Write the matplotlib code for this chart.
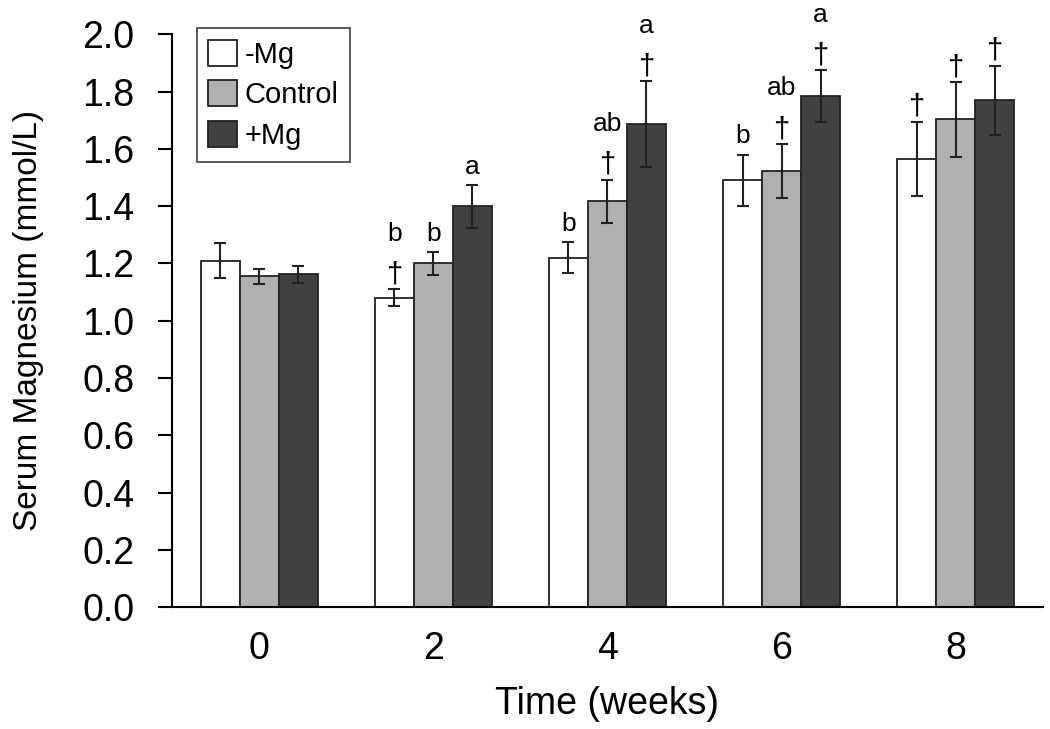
import numpy as np
import matplotlib
matplotlib.use("Agg")
from matplotlib import pyplot as plt

plt.rcParams['font.family'] = ['Liberation Sans', 'DejaVu Sans']

weeks = ["0", "2", "4", "6", "8"]
groups = ["-Mg", "Control", "+Mg"]

minus_mg = [1.21, 1.08, 1.22, 1.49, 1.565]
control = [1.155, 1.20, 1.417, 1.522, 1.703]
plus_mg = [1.162, 1.40, 1.686, 1.784, 1.77]

minus_mg_err = [0.06, 0.03, 0.055, 0.09, 0.13]
control_err = [0.025, 0.04, 0.075, 0.095, 0.13]
plus_mg_err = [0.03, 0.075, 0.15, 0.09, 0.12]

# significance marks above each bar: (letter, dagger)
minus_mg_marks = [("", False), ("b", True), ("b", False), ("b", False), ("", True)]
control_marks = [("", False), ("b", False), ("ab", True), ("ab", True), ("", True)]
plus_mg_marks = [("", False), ("a", False), ("a", True), ("a", True), ("", True)]

colors = ["white", "#b0b0b0", "#414141"]

fig, ax = plt.subplots(figsize=(10.5, 7.29), dpi=100)
fig.subplots_adjust(left=0.164, right=0.993, top=0.953, bottom=0.167)

x = np.arange(len(weeks))
w = 0.224
series = [(minus_mg, minus_mg_err, minus_mg_marks),
          (control, control_err, control_marks),
          (plus_mg, plus_mg_err, plus_mg_marks)]

for i, (vals, errs, marks) in enumerate(series):
    xs = x + (i - 1) * w
    ax.bar(xs, vals, w, color=colors[i], edgecolor="#222222", linewidth=1.3,
           label=groups[i], zorder=2)
    ax.errorbar(xs, vals, yerr=errs, fmt="none", ecolor="#222222",
                elinewidth=1.5, capsize=4, capthick=1.5, zorder=3)
    for xi, v, e, (letter, dag) in zip(xs, vals, errs, marks):
        top = v + e
        off = 5
        if dag:
            ax.annotate("\u2020", (xi, top), xytext=(0, off), textcoords="offset points",
                        ha="center", va="baseline", fontsize=21)
            off += 30
        else:
            off = 8
        if letter:
            ax.annotate(letter, (xi, top), xytext=(0, off), textcoords="offset points",
                        ha="center", va="baseline", fontsize=19)

ax.set_xlim(-0.5, 4.5)
ax.set_ylim(0, 2.0)
ax.set_yticks(np.arange(0, 2.01, 0.2))
ax.set_yticklabels([f"{t:.1f}" for t in np.arange(0, 2.01, 0.2)])
ax.set_xticks(x)
ax.set_xticklabels(weeks)
ax.tick_params(axis="y", direction="out", length=10, width=1.5, labelsize=27, pad=17)
ax.tick_params(axis="x", length=0, labelsize=27, pad=17)
ax.spines["top"].set_visible(False)
ax.spines["right"].set_visible(False)
ax.spines["left"].set_linewidth(1.5)
ax.spines["bottom"].set_linewidth(1.5)

ax.set_xlabel("Time (weeks)", fontsize=27, labelpad=14)
ax.set_ylabel("Serum Magnesium (mmol/L)", fontsize=24, labelpad=28)

leg = ax.legend(loc="upper left", bbox_to_anchor=(0.028, 1.011), borderaxespad=0,
                fontsize=21, frameon=True, fancybox=False, edgecolor="#222222",
                handlelength=1.0, handleheight=1.0, handletextpad=0.25,
                labelspacing=0.4, borderpad=0.4)
leg.get_frame().set_linewidth(1.3)

fig.savefig("out.png", dpi=100)
